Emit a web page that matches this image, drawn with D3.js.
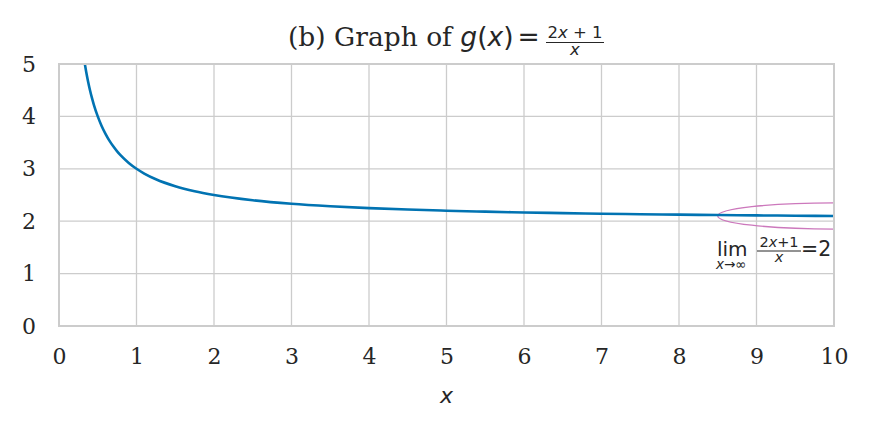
<!DOCTYPE html>
<html><head><meta charset="utf-8">
<script src="https://cdn.jsdelivr.net/npm/d3@7"></script>
<style>body{margin:0;background:#fff}</style>
</head><body><svg id="c" width="869" height="430"></svg>
<script>
const curveX = [0.333,0.35,0.375,0.4,0.425,0.45,0.5,0.55,0.6,0.65,0.7,0.75,0.8,0.9,1,1.1,1.25,1.5,1.75,2,2.5,3,3.5,4,4.5,5,5.5,6,6.5,7,7.5,8,8.5,9,9.5,10];
const curveY = [5.003,4.857,4.667,4.5,4.353,4.222,4,3.818,3.667,3.538,3.429,3.333,3.25,3.111,3,2.909,2.8,2.667,2.571,2.5,2.4,2.333,2.286,2.25,2.222,2.2,2.182,2.167,2.154,2.143,2.133,2.125,2.118,2.111,2.105,2.1];
const xTicks = [0,1,2,3,4,5,6,7,8,9,10];
const yTicks = [0,1,2,3,4,5];
const ellipseCenter = [10, 2.1];
const ellipseSize = [3, 0.5];

const svg = d3.select("#c");
const L=59, R=834, T=64, B=326;
const x = d3.scaleLinear().domain([0,10]).range([L,R]);
const y = d3.scaleLinear().domain([0,5]).range([B,T]);
const grid="#cccccc", ink="#262626";
const serif="'DejaVu Serif', serif", sans="'DejaVu Sans', sans-serif";

// grid
svg.append("g").selectAll("line").data(xTicks).join("line")
  .attr("x1",d=>x(d)).attr("x2",d=>x(d)).attr("y1",T).attr("y2",B)
  .attr("stroke",grid).attr("stroke-width",1.3);
svg.append("g").selectAll("line").data(yTicks).join("line")
  .attr("y1",d=>y(d)).attr("y2",d=>y(d)).attr("x1",L).attr("x2",R)
  .attr("stroke",grid).attr("stroke-width",1.3);

// axes via d3 axis (labels only)
const xa = svg.append("g").attr("transform",`translate(0,${B})`)
  .call(d3.axisBottom(x).tickValues(xTicks).tickSize(0).tickPadding(22).tickFormat(d3.format("d")));
const ya = svg.append("g").attr("transform",`translate(${L},0)`)
  .call(d3.axisLeft(y).tickValues(yTicks).tickSize(0).tickPadding(23).tickFormat(d3.format("d")));
[xa,ya].forEach(a=>{a.select(".domain").remove();
  a.selectAll("text").attr("font-family",serif).attr("font-size",22).attr("fill",ink);});
ya.selectAll("text").attr("text-anchor","start").attr("dx",-14);

// clip
svg.append("clipPath").attr("id","clip").append("rect").attr("x",L).attr("y",T).attr("width",R-L).attr("height",B-T);

// ellipse
svg.append("ellipse").attr("clip-path","url(#clip)")
  .attr("cx",x(ellipseCenter[0])).attr("cy",y(ellipseCenter[1]))
  .attr("rx",x(ellipseSize[0]/2)-x(0)).attr("ry",y(0)-y(ellipseSize[1]/2))
  .attr("fill","none").attr("stroke","#cc78bc").attr("stroke-width",1.3);

// curve
const pts = curveX.map((v,i)=>[v,curveY[i]]);
svg.append("path").datum(pts).attr("clip-path","url(#clip)")
  .attr("d",d3.line().x(d=>x(d[0])).y(d=>y(d[1])).curve(d3.curveMonotoneX))
  .attr("fill","none").attr("stroke","#0173b2").attr("stroke-width",2.6);

// frame
svg.append("rect").attr("x",L).attr("y",T).attr("width",R-L).attr("height",B-T)
  .attr("fill","none").attr("stroke",grid).attr("stroke-width",2);

// x label
svg.append("text").attr("x",(L+R)/2).attr("y",403).attr("text-anchor","middle")
  .attr("font-family",sans).attr("font-style","italic").attr("font-size",22).attr("fill",ink).text("x");

// title
const tt = svg.append("text").attr("x",288).attr("y",46).attr("font-size",26.5).attr("fill",ink);
tt.append("tspan").attr("font-family",serif).text("(b) Graph of ");
tt.append("tspan").attr("font-family",sans).attr("font-style","italic").text("g");
tt.append("tspan").attr("font-family",sans).text("(");
tt.append("tspan").attr("font-family",sans).attr("font-style","italic").text("x");
tt.append("tspan").attr("font-family",sans).text(")");
svg.append("text").attr("x",528.5).attr("y",46).attr("text-anchor","middle").attr("font-family",sans)
  .attr("font-size",26.5).attr("fill",ink).text("=");
svg.append("text").attr("x",575).attr("y",38).attr("text-anchor","middle").attr("font-family",sans)
  .attr("font-size",16.5).attr("fill",ink).html('2<tspan font-style="italic">x</tspan> + 1');
svg.append("text").attr("x",575).attr("y",55).attr("text-anchor","middle").attr("font-family",sans)
  .attr("font-size",16.5).attr("font-style","italic").attr("fill",ink).text("x");
svg.append("line").attr("x1",546).attr("x2",604).attr("y1",42.5).attr("y2",42.5).attr("stroke",ink).attr("stroke-width",1);

// annotation
svg.append("text").attr("x",717).attr("y",256).attr("font-family",sans).attr("font-size",20).attr("fill",ink).text("lim");
svg.append("text").attr("x",716).attr("y",269).attr("font-family",sans).attr("font-size",13.5).attr("fill",ink)
  .html('<tspan font-style="italic">x</tspan>→∞');
svg.append("text").attr("x",779).attr("y",247).attr("text-anchor","middle").attr("font-family",sans).attr("font-size",14.5).attr("fill",ink)
  .html('2<tspan font-style="italic">x</tspan>+1');
svg.append("text").attr("x",779).attr("y",262).attr("text-anchor","middle").attr("font-family",sans).attr("font-size",14.5).attr("font-style","italic").attr("fill",ink).text("x");
svg.append("line").attr("x1",757).attr("x2",801).attr("y1",251).attr("y2",251).attr("stroke",ink).attr("stroke-width",1);
svg.append("text").attr("x",801).attr("y",256).attr("font-family",sans).attr("font-size",20.5).attr("fill",ink).text("=2");
</script></body></html>
